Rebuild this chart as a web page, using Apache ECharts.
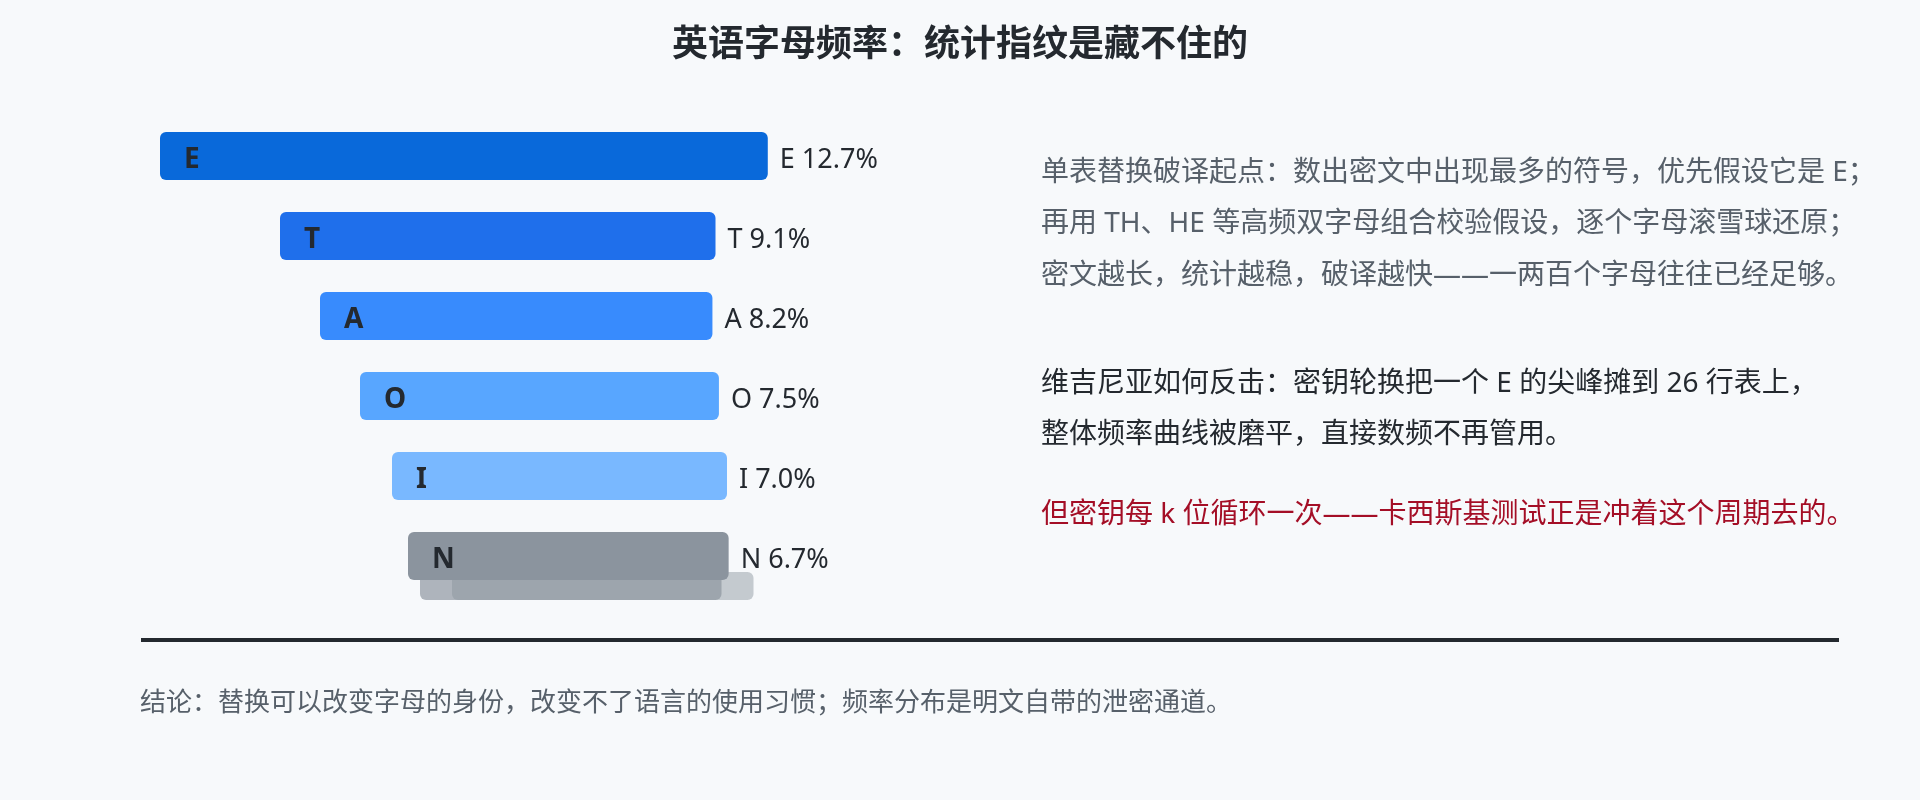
<!DOCTYPE html>
<html>
<head>
<meta charset="utf-8">
<script src="https://cdn.jsdelivr.net/npm/echarts@6/dist/echarts.min.js"></script>
<style>
  html, body { margin: 0; padding: 0; background: #f7f9fb; }
  #chart { width: 1920px; height: 800px; }
</style>
</head>
<body>
<div id="chart"></div>
<script>
// ---- data ----
const letters = ['E', 'T', 'A', 'O', 'I', 'N'];
const freqs = [12.7, 9.1, 8.2, 7.5, 7.0, 6.7];
const ghostValues = [6.3, 6.3];           // faded cards stacked behind the last bar
const titleText = '英语字母频率：统计指纹是藏不住的';
const noteLines1 = [
  '单表替换破译起点：数出密文中出现最多的符号，优先假设它是 E；',
  '再用 TH、HE 等高频双字母组合校验假设，逐个字母滚雪球还原；',
  '密文越长，统计越稳，破译越快——一两百个字母往往已经足够。'
];
const noteLines2 = [
  '维吉尼亚如何反击：密钥轮换把一个 E 的尖峰摊到 26 行表上，',
  '整体频率曲线被磨平，直接数频不再管用。'
];
const noteRed = '但密钥每 k 位循环一次——卡西斯基测试正是冲着这个周期去的。';
const footerText = '结论：替换可以改变字母的身份，改变不了语言的使用习惯；频率分布是明文自带的泄密通道。';

// ---- layout / style ----
const FONT = '"Noto Sans", "Noto Sans CJK SC", sans-serif';
const barColors = ['#0969da', '#1f6feb', '#388bfd', '#58a6ff', '#79b8ff', '#8b949e'];
const indentPx = [0, 120, 160, 200, 232, 248];
const ghostIndentPx = [260, 292];
const ghostOpacity = [0.68, 0.47];

const chart = echarts.init(document.getElementById('chart'), null, { renderer: 'canvas' });

function renderBar(params, api) {
  const i = params.dataIndex;
  const v = api.value(0);
  const cat = api.value(1);
  const p0 = api.coord([0, cat]);
  const p1 = api.coord([v, cat]);
  const h = api.size([0, 1])[1] * 0.6;
  const x = p0[0] + indentPx[i];
  const w = p1[0] - p0[0];
  return {
    type: 'group',
    children: [
      { type: 'rect', shape: { x: x, y: p0[1] - h / 2, width: w, height: h, r: 6 },
        style: { fill: barColors[i] } },
      { type: 'text', style: { text: letters[i], x: x + 24, y: p0[1] + 4,
        fill: '#24292f', font: 'bold 28px ' + FONT, verticalAlign: 'middle', align: 'left' } },
      { type: 'text', style: { text: letters[i] + ' ' + v.toFixed(1) + '%', x: x + w + 12, y: p0[1] + 4,
        fill: '#24292f', font: '27px ' + FONT, verticalAlign: 'middle', align: 'left' } }
    ]
  };
}

function renderGhost(params, api) {
  const i = params.dataIndex;
  const v = api.value(0);
  const cat = api.value(1);
  const p0 = api.coord([0, cat]);
  const p1 = api.coord([v, cat]);
  const x = p0[0] + ghostIndentPx[i];
  const w = p1[0] - p0[0];
  return {
    type: 'rect',
    shape: { x: x, y: p0[1] + 16, width: w, height: 28, r: 6 },
    style: { fill: '#8b949e', opacity: ghostOpacity[i] }
  };
}

const textEls = [];
textEls.push({ type: 'text', left: 'center', top: 28,
  style: { text: titleText, fill: '#24292f', font: 'bold 36px ' + FONT } });
noteLines1.forEach((t, k) => textEls.push({ type: 'text', x: 1041, y: 173 + k * 51.5,
  style: { text: t, fill: '#57606a', font: '28px ' + FONT, verticalAlign: 'middle' } }));
noteLines2.forEach((t, k) => textEls.push({ type: 'text', x: 1041, y: 384 + k * 51.5,
  style: { text: t, fill: '#24292f', font: '28px ' + FONT, verticalAlign: 'middle' } }));
textEls.push({ type: 'text', x: 1041, y: 515,
  style: { text: noteRed, fill: '#a40e26', font: '28px ' + FONT, verticalAlign: 'middle' } });
textEls.push({ type: 'line', shape: { x1: 141, y1: 640, x2: 1839, y2: 640 },
  style: { stroke: '#24292f', lineWidth: 4 } });
textEls.push({ type: 'text', x: 140, y: 704,
  style: { text: footerText, fill: '#57606a', font: '26px ' + FONT, verticalAlign: 'middle' } });

chart.setOption({
  backgroundColor: '#f7f9fb',
  animation: false,
  grid: { left: 160, top: 116, width: 670, height: 480 },
  xAxis: { type: 'value', min: 0, max: 14, show: false },
  yAxis: { type: 'category', data: letters, inverse: true, show: false },
  graphic: textEls,
  series: [
    { type: 'custom', renderItem: renderGhost, encode: { x: 0, y: 1 },
      data: ghostValues.map(v => [v, letters.length - 1]) },
    { type: 'custom', renderItem: renderBar, encode: { x: 0, y: 1 },
      data: freqs.map((v, i) => [v, i]) }
  ]
});
</script>
</body>
</html>
